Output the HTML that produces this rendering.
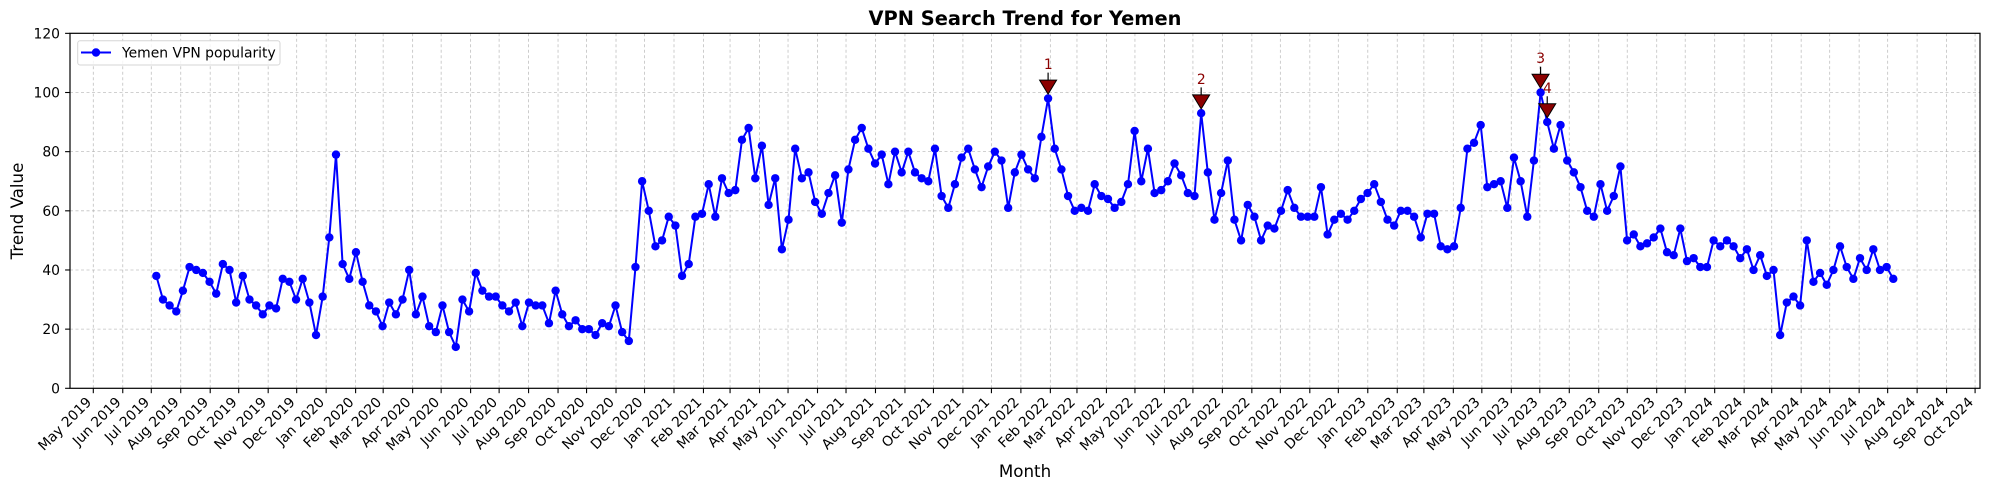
<!DOCTYPE html>
<html><head><meta charset="utf-8"><style>
html,body{margin:0;padding:0;background:#fff;}
svg{display:block;font-family:"DejaVu Sans","Liberation Sans",sans-serif;}
</style></head><body>
<svg id="s" width="1990" height="490" xmlns="http://www.w3.org/2000/svg">
<rect width="1990" height="490" fill="#fff"/>
<g id="grid"></g>
<g id="series"></g>
<g id="ann"></g>
<rect x="70" y="33.3" width="1910" height="355" fill="none" stroke="#000" stroke-width="1.2"/>
<g id="ticks"></g>
<text x="1025" y="25" text-anchor="middle" font-size="19.4" font-weight="bold">VPN Search Trend for Yemen</text>
<text x="1025" y="477" text-anchor="middle" font-size="16.7">Month</text>
<text transform="translate(23,211) rotate(-90)" text-anchor="middle" font-size="16.7">Trend Value</text>
<g font-size="13.9" text-anchor="end">
<text x="60" y="393.3">0</text>
<text x="60" y="334.1">20</text>
<text x="60" y="275">40</text>
<text x="60" y="215.8">60</text>
<text x="60" y="156.7">80</text>
<text x="60" y="97.5">100</text>
<text x="60" y="38.3">120</text>
</g>
<g font-size="13.9" text-anchor="end">
<text transform="translate(92.3,403) rotate(-45)">May 2019</text>
<text transform="translate(121.8,403) rotate(-45)">Jun 2019</text>
<text transform="translate(150.3,403) rotate(-45)">Jul 2019</text>
<text transform="translate(179.7,403) rotate(-45)">Aug 2019</text>
<text transform="translate(209.2,403) rotate(-45)">Sep 2019</text>
<text transform="translate(237.7,403) rotate(-45)">Oct 2019</text>
<text transform="translate(267.2,403) rotate(-45)">Nov 2019</text>
<text transform="translate(295.7,403) rotate(-45)">Dec 2019</text>
<text transform="translate(325.1,403) rotate(-45)">Jan 2020</text>
<text transform="translate(354.6,403) rotate(-45)">Feb 2020</text>
<text transform="translate(382.2,403) rotate(-45)">Mar 2020</text>
<text transform="translate(411.6,403) rotate(-45)">Apr 2020</text>
<text transform="translate(440.2,403) rotate(-45)">May 2020</text>
<text transform="translate(469.6,403) rotate(-45)">Jun 2020</text>
<text transform="translate(498.1,403) rotate(-45)">Jul 2020</text>
<text transform="translate(527.6,403) rotate(-45)">Aug 2020</text>
<text transform="translate(557,403) rotate(-45)">Sep 2020</text>
<text transform="translate(585.6,403) rotate(-45)">Oct 2020</text>
<text transform="translate(615,403) rotate(-45)">Nov 2020</text>
<text transform="translate(643.5,403) rotate(-45)">Dec 2020</text>
<text transform="translate(673,403) rotate(-45)">Jan 2021</text>
<text transform="translate(702.5,403) rotate(-45)">Feb 2021</text>
<text transform="translate(729.1,403) rotate(-45)">Mar 2021</text>
<text transform="translate(758.5,403) rotate(-45)">Apr 2021</text>
<text transform="translate(787,403) rotate(-45)">May 2021</text>
<text transform="translate(816.5,403) rotate(-45)">Jun 2021</text>
<text transform="translate(845,403) rotate(-45)">Jul 2021</text>
<text transform="translate(874.5,403) rotate(-45)">Aug 2021</text>
<text transform="translate(903.9,403) rotate(-45)">Sep 2021</text>
<text transform="translate(932.5,403) rotate(-45)">Oct 2021</text>
<text transform="translate(961.9,403) rotate(-45)">Nov 2021</text>
<text transform="translate(990.4,403) rotate(-45)">Dec 2021</text>
<text transform="translate(1019.9,403) rotate(-45)">Jan 2022</text>
<text transform="translate(1049.4,403) rotate(-45)">Feb 2022</text>
<text transform="translate(1076,403) rotate(-45)">Mar 2022</text>
<text transform="translate(1105.4,403) rotate(-45)">Apr 2022</text>
<text transform="translate(1133.9,403) rotate(-45)">May 2022</text>
<text transform="translate(1163.4,403) rotate(-45)">Jun 2022</text>
<text transform="translate(1191.9,403) rotate(-45)">Jul 2022</text>
<text transform="translate(1221.4,403) rotate(-45)">Aug 2022</text>
<text transform="translate(1250.8,403) rotate(-45)">Sep 2022</text>
<text transform="translate(1279.4,403) rotate(-45)">Oct 2022</text>
<text transform="translate(1308.8,403) rotate(-45)">Nov 2022</text>
<text transform="translate(1337.3,403) rotate(-45)">Dec 2022</text>
<text transform="translate(1366.8,403) rotate(-45)">Jan 2023</text>
<text transform="translate(1396.2,403) rotate(-45)">Feb 2023</text>
<text transform="translate(1422.9,403) rotate(-45)">Mar 2023</text>
<text transform="translate(1452.3,403) rotate(-45)">Apr 2023</text>
<text transform="translate(1480.8,403) rotate(-45)">May 2023</text>
<text transform="translate(1510.3,403) rotate(-45)">Jun 2023</text>
<text transform="translate(1538.8,403) rotate(-45)">Jul 2023</text>
<text transform="translate(1568.2,403) rotate(-45)">Aug 2023</text>
<text transform="translate(1597.7,403) rotate(-45)">Sep 2023</text>
<text transform="translate(1626.2,403) rotate(-45)">Oct 2023</text>
<text transform="translate(1655.7,403) rotate(-45)">Nov 2023</text>
<text transform="translate(1684.2,403) rotate(-45)">Dec 2023</text>
<text transform="translate(1713.7,403) rotate(-45)">Jan 2024</text>
<text transform="translate(1743.2,403) rotate(-45)">Feb 2024</text>
<text transform="translate(1770.7,403) rotate(-45)">Mar 2024</text>
<text transform="translate(1800.2,403) rotate(-45)">Apr 2024</text>
<text transform="translate(1828.7,403) rotate(-45)">May 2024</text>
<text transform="translate(1858.1,403) rotate(-45)">Jun 2024</text>
<text transform="translate(1886.7,403) rotate(-45)">Jul 2024</text>
<text transform="translate(1916.2,403) rotate(-45)">Aug 2024</text>
<text transform="translate(1945.6,403) rotate(-45)">Sep 2024</text>
<text transform="translate(1974.1,403) rotate(-45)">Oct 2024</text>
</g>
<g fill="#8b0000" font-size="13.9" text-anchor="middle">
<text x="1048.3" y="69">1</text>
<text x="1201.3" y="84">2</text>
<text x="1540.7" y="63">3</text>
<text x="1547.4" y="93">4</text>
</g>
<rect x="77.7" y="40.7" width="202.3" height="24.3" rx="2.5" fill="#fff" fill-opacity="0.8" stroke="#d6d6d6"/>
<line x1="81" y1="52.5" x2="111" y2="52.5" stroke="#0000ff" stroke-width="2"/>
<circle cx="96" cy="52.5" r="4.2" fill="#0000ff"/>
<text x="122" y="57.5" font-size="13.9">Yemen VPN popularity</text>
</svg>
<script>
var NS="http://www.w3.org/2000/svg";
function el(p,t,a){var e=document.createElementNS(NS,t);for(var k in a)e.setAttribute(k,a[k]);p.appendChild(e);return e;}
var Y=function(v){return 388.3-v*2.958;};
var days=[0,31,61,92,123,153,184,214,245,276,305,336,366,397,427,458,489,519,550,580,611,642,670,701,731,762,792,823,854,884,915,945,976,1007,1035,1066,1096,1127,1157,1188,1219,1249,1280,1310,1341,1372,1400,1431,1461,1492,1522,1553,1584,1614,1645,1675,1706,1737,1766,1797,1827,1858,1888,1919,1950,1980];
var g=document.getElementById('grid'),tk=document.getElementById('ticks');
days.forEach(function(d){var x=93.3+d*0.9504;
el(g,'line',{x1:x,y1:33.3,x2:x,y2:388.3,stroke:'#b0b0b0','stroke-width':0.8,'stroke-dasharray':'3,2.5','stroke-opacity':0.8});
el(tk,'line',{x1:x,y1:388.3,x2:x,y2:393.2,stroke:'#000','stroke-width':1.1});});
for(var v=0;v<=120;v+=20){var y=Y(v);
if(v>0&&v<120)el(g,'line',{x1:70,y1:y,x2:1980,y2:y,stroke:'#b0b0b0','stroke-width':0.8,'stroke-dasharray':'3,2.5','stroke-opacity':0.8});
el(tk,'line',{x1:65.1,y1:y,x2:70,y2:y,stroke:'#000','stroke-width':1.1});}
var data=[38,30,28,26,33,41,40,39,36,32,42,40,29,38,30,28,25,28,27,37,36,30,37,29,18,31,51,79,42,37,46,36,28,26,21,29,25,
30,40,25,31,21,19,28,19,14,30,26,39,33,31,31,28,26,29,21,29,28,28,22,33,25,21,23,20,20,18,22,21,28,19,16,41,70,60,48,50,
58,55,38,42,58,59,69,58,71,66,67,84,88,71,82,62,71,47,57,81,71,73,63,59,66,72,56,74,84,88,81,76,79,69,80,73,80,73,71,70,
81,65,61,69,78,81,74,68,75,80,77,61,73,79,74,71,85,98,81,74,65,60,61,60,69,65,64,61,63,69,87,70,81,66,67,70,76,72,66,65,
93,73,57,66,77,57,50,62,58,50,55,54,60,67,61,58,58,58,68,52,57,59,57,60,64,66,69,63,57,55,60,60,58,51,59,59,48,47,48,61,
81,83,89,68,69,70,61,78,70,58,77,100,90,81,89,77,73,68,60,58,69,60,65,75,50,52,48,49,51,54,46,45,54,43,44,41,41,50,48,50,
48,44,47,40,45,38,40,18,29,31,28,50,36,39,35,40,48,41,37,44,40,47,40,41,37];
var s=document.getElementById('series'),pts=[];
var step=(1893.3-156.3)/(data.length-1);
data.forEach(function(v,i){pts.push([156.3+i*step,Y(v)]);});
el(s,'polyline',{points:pts.map(function(p){return p[0].toFixed(1)+','+p[1].toFixed(1);}).join(' '),fill:'none',stroke:'#0000ff','stroke-width':2,'stroke-linejoin':'round'});
pts.forEach(function(p){el(s,'circle',{cx:p[0],cy:p[1],r:4.2,fill:'#0000ff'});});
var a=document.getElementById('ann');
[134,157,208,209].forEach(function(i){var x=pts[i][0],cy=pts[i][1]-11.8;
el(a,'line',{x1:x,y1:cy-14,x2:x,y2:cy-5,stroke:'#000','stroke-width':1.2});
el(a,'polygon',{points:(x-8.5)+','+(cy-6.5)+' '+(x+8.5)+','+(cy-6.5)+' '+x+','+(cy+7.5),fill:'#8b0000',stroke:'#000','stroke-width':1});});
</script>
</body></html>
